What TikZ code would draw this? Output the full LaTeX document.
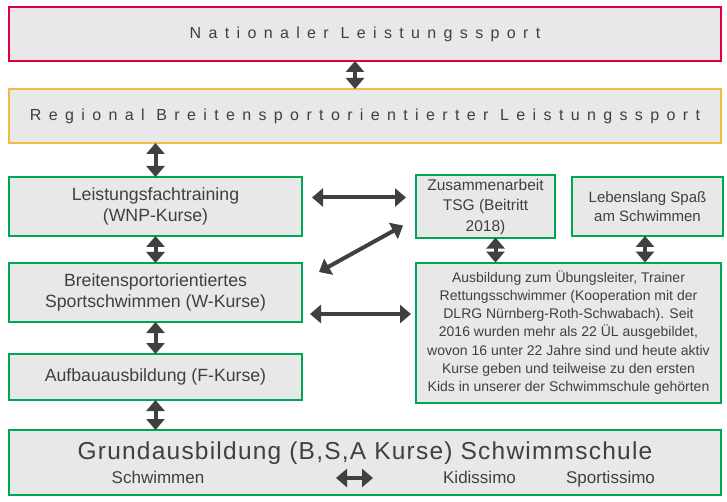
\documentclass[tikz,border=0pt]{standalone}
\usepackage{fontspec}
\setmainfont{Liberation Sans}
\newfontfamily\spacedfont[LetterSpace=46]{Liberation Sans}
\newfontfamily\titlefont[LetterSpace=5]{Liberation Sans}
\usetikzlibrary{arrows.meta,shapes,positioning,shadows,calc}
\definecolor{nlred}{RGB}{226,0,58}
\definecolor{rbyellow}{RGB}{240,190,70}
\definecolor{swgreen}{RGB}{0,166,81}
\definecolor{boxgray}{RGB}{232,232,232}
\definecolor{txtgray}{RGB}{64,64,64}
\definecolor{arrgray}{RGB}{64,64,64}
\tikzstyle{levelbox} = [rectangle, draw=swgreen, line width=2pt, outer sep=0pt, fill=boxgray, text=txtgray, text centered, drop shadow={shadow xshift=1.5pt, shadow yshift=-2pt, opacity=0.35}, preaction={draw=white, line width=6pt}, font=\fontsize{17.7pt}{21pt}\selectfont]
\tikzstyle{dblarrow} = [line width=4pt, draw=arrgray, {Triangle[width=18pt,length=11pt]}-{Triangle[width=18pt,length=11pt]}]
\begin{document}
\begin{tikzpicture}[x=1pt, y=-1pt, node distance=28pt]
\useasboundingbox (0,0) rectangle (727,502);
% Leistungsebenen oben
\node[levelbox, draw=nlred, minimum width=712pt, minimum height=54pt, font=\spacedfont\fontsize{16pt}{19pt}\selectfont] (natl) at (365,34) {Nationaler Leistungssport};
\node[levelbox, draw=rbyellow, below=28pt of natl, minimum width=712pt, minimum height=54pt, font=\spacedfont\fontsize{16pt}{19pt}\selectfont] (regio) {Regional Breitensportorientierter Leistungssport};

% Kurse links
\node[levelbox, below right=34pt and 0pt of regio.south west, minimum width=293pt, minimum height=59pt, align=center] (wnp) {Leistungsfachtraining\\(WNP-Kurse)};
\node[levelbox, below=27pt of wnp, minimum width=293pt, minimum height=59pt, align=center] (wkurse) {Breitensportorientiertes\\Sportschwimmen (W-Kurse)};
\node[levelbox, below=32pt of wkurse, minimum width=293pt, minimum height=46pt] (fkurse) {Aufbauausbildung (F-Kurse)};
\node[levelbox, below right=30pt and 0pt of fkurse.south west, minimum width=712pt, minimum height=65pt] (grund) {};
\node[anchor=base, text=txtgray, font=\titlefont\fontsize{24.5pt}{28pt}\selectfont] (grundtitle) at ($(grund.north)+(0,29)$) {Grundausbildung (B,S,A Kurse) Schwimmschule};
\node[anchor=base, text=txtgray, font=\fontsize{17pt}{19pt}\selectfont] (schwimmen) at ($(grund.west)+(149,20.5)$) {Schwimmen};
\node[anchor=base, text=txtgray, font=\fontsize{17pt}{19pt}\selectfont] (kidi) at ($(grund.west)+(470.5,20.5)$) {Kidissimo};
\node[anchor=base, text=txtgray, font=\fontsize{17pt}{19pt}\selectfont] (sporti) at ($(grund.west)+(601.5,20.5)$) {Sportissimo};
\coordinate (swl) at ($(grund.west)+(327,15.5)$);
\coordinate (swr) at ($(grund.west)+(364,15.5)$);

% rechte Seite
\node[levelbox, right=114pt of wnp, minimum width=139pt, minimum height=62pt, align=center, font=\fontsize{15.5pt}{20.5pt}\selectfont] (tsg) {Zusammenarbeit\\TSG (Beitritt\\2018)};
\node[levelbox, right=17pt of tsg, minimum width=151pt, minimum height=59pt, align=center, font=\fontsize{15pt}{19.5pt}\selectfont] (spass) {Lebenslang Spaß\\am Schwimmen};
\node[levelbox, below right=25pt and 0pt of tsg.south west, minimum width=305pt, minimum height=140pt, align=center, font=\fontsize{14pt}{18.3pt}\selectfont] (ul) {Ausbildung zum Übungsleiter, Trainer\\
Rettungsschwimmer (Kooperation mit der\\
DLRG Nürnberg-Roth-Schwabach). Seit\\
2016 wurden mehr als 22 ÜL ausgebildet,\\
wovon 16 unter 22 Jahre sind und heute aktiv\\
Kurse geben und teilweise zu den ersten\\
Kids in unserer der Schwimmschule gehörten};

% Pfeile
\draw[dblarrow] ($(natl.south)+(-10,0)$) -- ($(natl.south |- regio.north)+(-10,0)$);
\draw[dblarrow] (regio.south -| wnp.north) -- (wnp.north);
\draw[dblarrow] (wnp.south) -- (wkurse.north);
\draw[dblarrow] (wkurse.south) -- (fkurse.north);
\draw[dblarrow] (fkurse.south) -- (fkurse.south |- grund.north);
\draw[dblarrow] ($(wnp.east)+(10,-9)$) -- ($(wnp.east -| tsg.west)+(-10,-9)$);
\draw[dblarrow] ($(wkurse.north east)+(17,9)$) -- ($(tsg.south west)+(-13,-12)$);
\draw[dblarrow] ($(wkurse.east)+(8,21.5)$) -- ($(wkurse.east -| ul.west)+(-5,21.5)$);
\draw[dblarrow] ($(tsg.south)+(10,0)$) -- ($(tsg.south |- ul.north)+(10,0)$);
\draw[dblarrow] ($(spass.south)+(-2.5,0)$) -- ($(spass.south |- ul.north)+(-2.5,0)$);
\draw[dblarrow] (swl) -- (swr);
\end{tikzpicture}
\end{document}
